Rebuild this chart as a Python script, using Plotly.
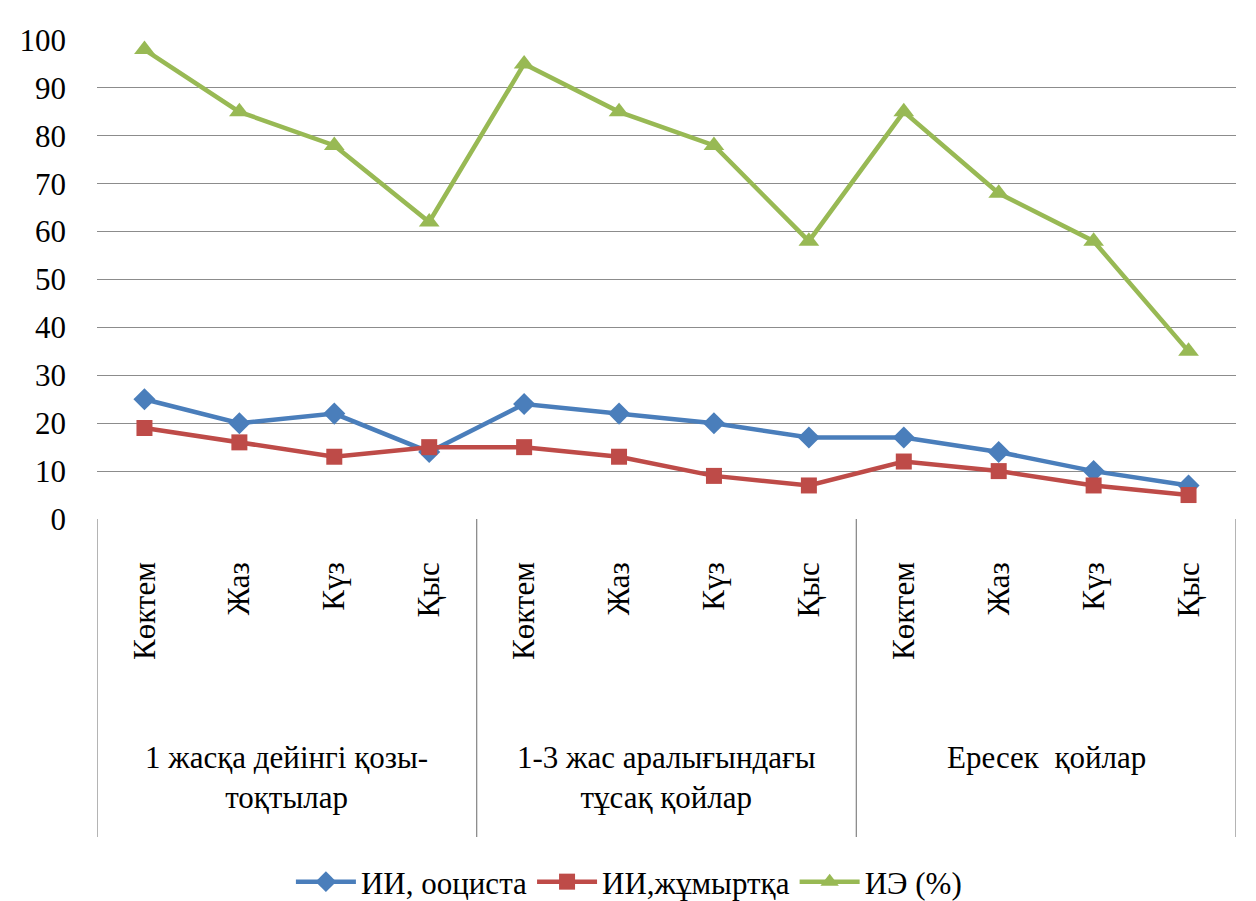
import plotly.graph_objects as go

# Seasons within each age group and the three age groups
seasons = ["Көктем", "Жаз", "Күз", "Қыс"]
groups = ["1 жасқа дейінгі қозы-<br>тоқтылар", "1-3 жас аралығындағы<br>тұсақ қойлар", "Ересек  қойлар"]

# Series values (one per season per group, 12 points)
oocyst = [25, 20, 22, 14, 24, 22, 20, 17, 17, 14, 10, 7]
eggs = [19, 16, 13, 15, 15, 13, 9, 7, 12, 10, 7, 5]
extensity = [98, 85, 78, 62, 95, 85, 78, 58, 85, 68, 58, 35]

series_names = ["ИИ, ооциста", "ИИ,жұмыртқа", "ИЭ (%)"]
y_ticks = [0, 10, 20, 30, 40, 50, 60, 70, 80, 90, 100]

FONT = "Liberation Serif, Times New Roman, serif"
GRID = "#8c8c8c"
FS = 31

n = len(seasons) * len(groups)
xs = list(range(n))
tick_text = seasons * len(groups)

fig = go.Figure()
styles = [
    (oocyst, "#4A7EBB", "diamond", 17),
    (eggs, "#BE4B48", "square", 16),
    (extensity, "#98B954", "triangle-up", 18),
]
for name, (vals, color, sym, size) in zip(series_names, styles):
    fig.add_trace(go.Scatter(
        x=xs, y=vals, name=name, mode="lines+markers",
        line=dict(color=color, width=4.5),
        marker=dict(symbol=sym, size=size, color=color),
        cliponaxis=False,
    ))

# Category box lines below the plot
plot_h = 479.0
box_bottom = -(837 - 519) / plot_h
for xb in [-0.5, 3.5, 7.5, 11.5]:
    fig.add_shape(type="line", xref="x", yref="paper", x0=xb, x1=xb,
                  y0=0, y1=box_bottom, line=dict(color=GRID, width=1.3))

# Group labels
for gi, g in enumerate(groups):
    fig.add_annotation(
        x=gi * 4 + 1.5, xref="x", y=-(738 - 519) / plot_h, yref="paper",
        text=g, showarrow=False, yanchor="top", xanchor="center",
        font=dict(family=FONT, size=FS, color="black"), align="center",
    )

fig.update_layout(
    width=1256, height=901,
    margin=dict(l=97, r=20, t=40, b=382, autoexpand=False),
    paper_bgcolor="white", plot_bgcolor="white",
    font=dict(family=FONT, size=FS, color="black"),
    showlegend=True,
    legend=dict(orientation="h", x=0.467, xanchor="center",
                yref="container", y=1 - 882 / 901, yanchor="middle",
                font=dict(family=FONT, size=FS, color="black"), itemwidth=60,
                bgcolor="rgba(0,0,0,0)"),
    xaxis=dict(
        range=[-0.5, 11.5], tickmode="array", tickvals=xs, ticktext=tick_text,
        tickangle=-90, showgrid=False, showline=False, zeroline=False,
        ticks="", ticklabelstandoff=36,
        tickfont=dict(family=FONT, size=FS, color="black"),
        automargin=False,
    ),
    yaxis=dict(
        range=[0, 100], tickmode="array", tickvals=y_ticks,
        showgrid=True, gridcolor=GRID, gridwidth=1.3, zeroline=False,
        showline=False, ticks="", ticklabelstandoff=30,
        tickfont=dict(family=FONT, size=FS, color="black"), automargin=False,
    ),
)

fig.write_html("out.html")
